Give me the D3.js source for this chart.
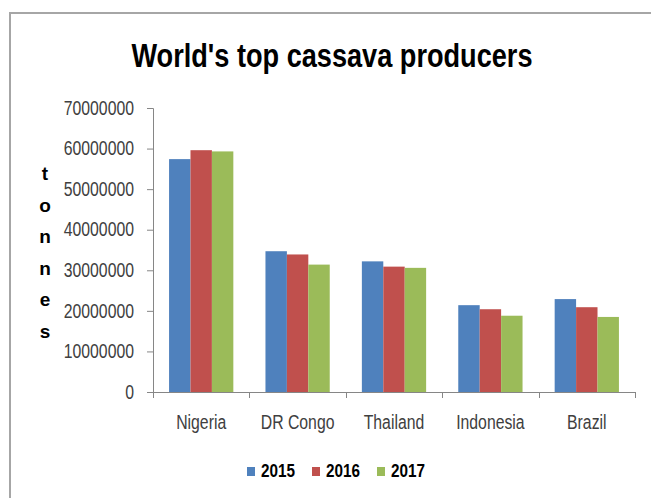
<!DOCTYPE html>
<html>
<head>
<meta charset="utf-8">
<script src="https://cdn.jsdelivr.net/npm/d3@7"></script>
<style>
  body { margin: 0; background: #fff; }
  text { font-family: "Liberation Sans", Arial, sans-serif; }
</style>
</head>
<body>
<script>
var countries = ["Nigeria", "DR Congo", "Thailand", "Indonesia", "Brazil"];
var years = ["2015", "2016", "2017"];
var v2015 = [57400000, 34700000, 32200000, 21400000, 22900000];
var v2016 = [59600000, 33900000, 30900000, 20400000, 20900000];
var v2017 = [59300000, 31400000, 30600000, 18800000, 18500000];
var yTicks = [0, 10000000, 20000000, 30000000, 40000000, 50000000, 60000000, 70000000];
var colors = ["#4F81BD", "#C0504D", "#9BBB59"];

window.onload = draw;

function draw(){
    var width = 651,
        height = 498;

    var svg = d3.select("body")
        .append("svg")
        .attr("width", width)
        .attr("height", height);

    // squeeze text horizontally, the source font is narrow
    function narrow(sel, k){
        sel.each(function(){
            var w = this.getComputedTextLength();
            d3.select(this).attr("textLength", w * k).attr("lengthAdjust", "spacingAndGlyphs");
        });
    }

    // chart frame
    svg.append("rect")
        .attr("x", 10).attr("y", 13)
        .attr("width", 700).attr("height", 600)
        .attr("fill", "none")
        .attr("stroke", "#a6a6a6")
        .attr("stroke-width", 2);

    var title = svg.append("text")
        .attr("x", 332).attr("y", 67)
        .attr("text-anchor", "middle")
        .attr("font-size", 34)
        .attr("font-weight", "bold")
        .attr("fill", "#000")
        .text("World's top cassava producers")
        .attr("textLength", 401)
        .attr("lengthAdjust", "spacingAndGlyphs");

    var left = 153, right = 635, top = 108, bottom = 392;

    var x0 = d3.scaleBand()
        .domain(countries)
        .range([left, right])
        .padding(0);

    var x1 = d3.scaleBand()
        .domain(years)
        .range([0, x0.bandwidth()])
        .paddingInner(0)
        .paddingOuter(0.75);

    var y = d3.scaleLinear()
        .domain([0, 70000000])
        .range([bottom, top]);

    var series = [v2015, v2016, v2017];

    // y axis
    var yAxis = svg.append("g")
        .attr("transform", "translate(" + left + ",0)")
        .call(d3.axisLeft(y).tickValues(yTicks).tickFormat(d3.format("d")).tickSize(6).tickPadding(13));
    yAxis.select(".domain").attr("stroke", "#868686");
    yAxis.selectAll(".tick line").attr("stroke", "#868686");
    yAxis.selectAll(".tick text")
        .attr("font-size", 19.5)
        .attr("fill", "#404040")
        .attr("font-family", "Liberation Sans, Arial, sans-serif")
        .call(narrow, 0.81);

    // bars
    var groups = svg.selectAll(".grp")
        .data(countries)
        .enter()
        .append("g")
        .attr("class", "grp")
        .attr("transform", function(d){ return "translate(" + x0(d) + ",0)"; });

    groups.selectAll("rect")
        .data(function(d, i){
            return years.map(function(yr, j){ return {year: yr, value: series[j][i], j: j}; });
        })
        .enter()
        .append("rect")
        .attr("x", function(d){ return x1(d.year); })
        .attr("y", function(d){ return y(d.value); })
        .attr("width", x1.bandwidth())
        .attr("height", function(d){ return bottom - y(d.value); })
        .attr("fill", function(d){ return colors[d.j]; });

    // x axis line + boundary ticks
    svg.append("line")
        .attr("x1", left).attr("x2", right)
        .attr("y1", bottom + 0.5).attr("y2", bottom + 0.5)
        .attr("stroke", "#868686");

    var bounds = countries.map(function(c){ return x0(c); }).concat([right]);
    svg.selectAll(".xtick")
        .data(bounds)
        .enter()
        .append("line")
        .attr("class", "xtick")
        .attr("x1", function(d){ return Math.round(d) + 0.5; })
        .attr("x2", function(d){ return Math.round(d) + 0.5; })
        .attr("y1", bottom).attr("y2", bottom + 6)
        .attr("stroke", "#868686");

    svg.selectAll(".xlab")
        .data(countries)
        .enter()
        .append("text")
        .attr("class", "xlab")
        .attr("x", function(d){ return x0(d) + x0.bandwidth() / 2; })
        .attr("y", 429)
        .attr("text-anchor", "middle")
        .attr("font-size", 19.5)
        .attr("fill", "#404040")
        .text(function(d){ return d; })
        .call(narrow, 0.81);

    // axis title, one letter per line
    var ylab = svg.append("text")
        .attr("x", 45)
        .attr("y", 180)
        .attr("text-anchor", "middle")
        .attr("font-size", 19)
        .attr("font-weight", "bold")
        .attr("fill", "#000");
    ylab.selectAll("tspan")
        .data("tonnes".split(""))
        .enter()
        .append("tspan")
        .attr("x", 45)
        .attr("dy", function(d, i){ return i === 0 ? 0 : 31.5; })
        .text(function(d){ return d; });

    // legend
    var legX = [247, 312, 377];
    var leg = svg.selectAll(".leg")
        .data(years)
        .enter()
        .append("g")
        .attr("class", "leg")
        .attr("transform", function(d, i){ return "translate(" + legX[i] + ",467)"; });
    leg.append("rect")
        .attr("width", 8).attr("height", 9)
        .attr("fill", function(d, i){ return colors[i]; });
    leg.append("text")
        .attr("x", 14).attr("y", 10)
        .attr("font-size", 17.5)
        .attr("font-weight", "bold")
        .attr("fill", "#000")
        .text(function(d){ return d; })
        .attr("textLength", 34)
        .attr("lengthAdjust", "spacingAndGlyphs");
}
</script>
</body>
</html>
